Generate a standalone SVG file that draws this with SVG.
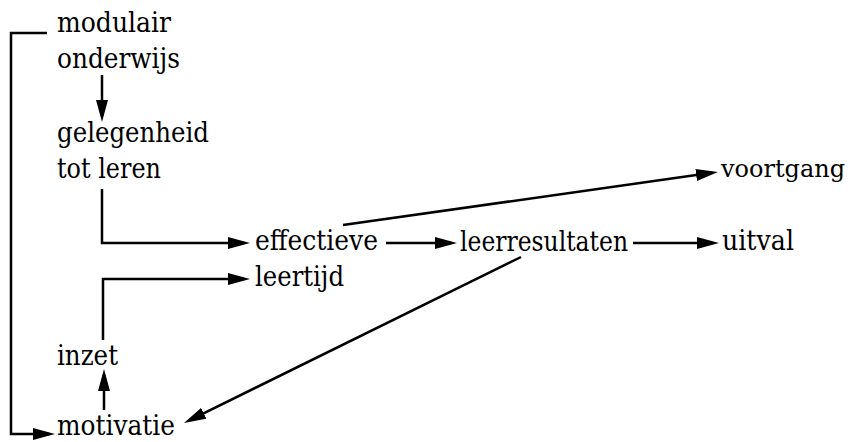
<svg xmlns="http://www.w3.org/2000/svg" width="852" height="442" viewBox="0 0 852 442">
<style>
text{font-family:'DejaVu Serif','Liberation Serif',serif;font-size:27px;fill:#000}
.c{fill:none;stroke:#000;stroke-width:2.5}
</style>
<defs>
<marker id="ah" viewBox="0 0 22 12" refX="16" refY="6" markerWidth="22" markerHeight="12" markerUnits="userSpaceOnUse" orient="auto">
<path d="M0,0 L22,6 L0,12 z" fill="#000"/>
</marker>
</defs>
<rect width="852" height="442" fill="#fff"/>
<g id="connectors">
<path class="c" d="M47,33 H11 V434 H49" marker-end="url(#ah)"/>
<path class="c" d="M102,75 V116" marker-end="url(#ah)"/>
<path class="c" d="M102,189 V243 H244" marker-end="url(#ah)"/>
<path class="c" d="M103,340 V279 H244" marker-end="url(#ah)"/>
<path class="c" d="M104,410 V375" marker-end="url(#ah)"/>
<path class="c" d="M386,243 H451" marker-end="url(#ah)"/>
<path class="c" d="M633,243 H713" marker-end="url(#ah)"/>
<path class="c" d="M343,225 L712,172.8" marker-end="url(#ah)"/>
<path class="c" d="M521,257 L189.4,420.3" marker-end="url(#ah)"/>
</g>
<g id="modulair-onderwijs"><text x="57" y="32" textLength="114" lengthAdjust="spacingAndGlyphs">modulair</text><text x="57" y="68" textLength="123" lengthAdjust="spacingAndGlyphs">onderwijs</text></g>
<g id="gelegenheid"><text x="57" y="142" textLength="152" lengthAdjust="spacingAndGlyphs">gelegenheid</text><text x="57" y="178" textLength="104" lengthAdjust="spacingAndGlyphs">tot leren</text></g>
<g id="effectieve"><text x="255" y="250" textLength="123" lengthAdjust="spacingAndGlyphs">effectieve</text></g>
<g id="leertijd"><text x="255" y="286" textLength="89" lengthAdjust="spacingAndGlyphs">leertijd</text></g>
<g id="leerresultaten"><text x="460" y="251" textLength="168" lengthAdjust="spacingAndGlyphs">leerresultaten</text></g>
<g id="voortgang"><text x="721" y="177" style="font-size:24.5px" textLength="124" lengthAdjust="spacingAndGlyphs">voortgang</text></g>
<g id="uitval"><text x="722" y="250" textLength="72" lengthAdjust="spacingAndGlyphs">uitval</text></g>
<g id="inzet"><text x="57" y="365" textLength="61" lengthAdjust="spacingAndGlyphs">inzet</text></g>
<g id="motivatie"><text x="57" y="435" textLength="118" lengthAdjust="spacingAndGlyphs">motivatie</text></g>
</svg>
